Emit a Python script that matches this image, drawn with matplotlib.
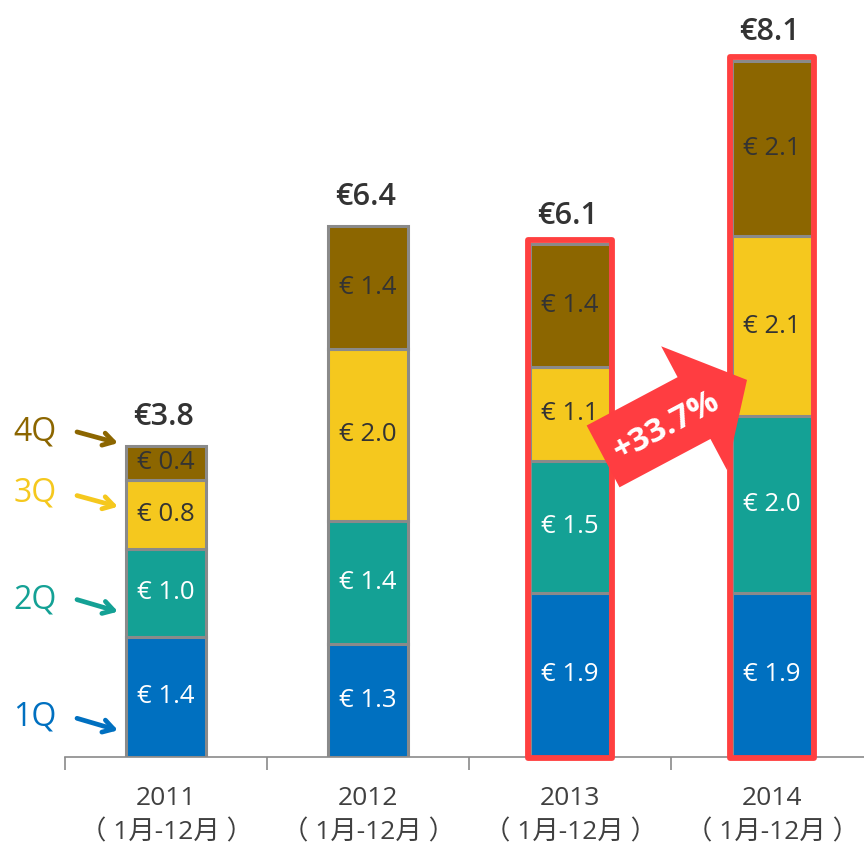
import numpy as np
import matplotlib
matplotlib.use("Agg")
import matplotlib.pyplot as plt
from matplotlib.patches import Rectangle, Polygon
from matplotlib.transforms import ScaledTranslation

plt.rcParams['font.family'] = ['Open Sans', 'Noto Sans CJK SC', 'DejaVu Sans']

years = ["2011", "2012", "2013", "2014"]
period = "（ 1月-12月 ）"
quarters = ["1Q", "2Q", "3Q", "4Q"]
q1 = [1.40, 1.31, 1.91, 1.91]
q2 = [1.02, 1.43, 1.53, 2.05]
q3 = [0.80, 2.01, 1.10, 2.10]
q4 = [0.40, 1.42, 1.42, 2.03]
q1_lbl = ["€ 1.4", "€ 1.3", "€ 1.9", "€ 1.9"]
q2_lbl = ["€ 1.0", "€ 1.4", "€ 1.5", "€ 2.0"]
q3_lbl = ["€ 0.8", "€ 2.0", "€ 1.1", "€ 2.1"]
q4_lbl = ["€ 0.4", "€ 1.4", "€ 1.4", "€ 2.1"]
totals_lbl = ["€3.8", "€6.4", "€6.1", "€8.1"]
highlight = [2, 3]
growth_lbl = "+33.7%"

colors = ["#0070C0", "#14A195", "#F5C81E", "#8C6600"]
text_cols = ["white", "white", "#333333", "#333333"]

W, H = 864, 848
fig = plt.figure(figsize=(W / 100, H / 100), dpi=100)
ax = fig.add_axes([65 / W, 91 / H, 799 / W, 757 / H])

x = np.arange(len(years))
series = [q1, q2, q3, q4]
labels = [q1_lbl, q2_lbl, q3_lbl, q4_lbl]
bottom = np.zeros(len(years))
for k, (vals, lbls) in enumerate(zip(series, labels)):
    vals = np.array(vals)
    ax.bar(x, vals, bottom=bottom, width=0.40, color=colors[k],
           edgecolor="#8a8a8a", linewidth=2.2, zorder=2)
    for i in range(len(years)):
        ax.text(x[i], bottom[i] + vals[i] / 2, lbls[i], ha="center", va="center",
                fontsize=18.5, color=text_cols[k], zorder=4)
    bottom = bottom + vals

tops = bottom
for i in range(len(years)):
    ax.annotate(totals_lbl[i], (x[i], tops[i]), xytext=(-2, 10), textcoords="offset points",
                ha="center", va="bottom", fontsize=22, fontweight="semibold", color="#333333")

for i in highlight:
    ax.add_patch(Rectangle((x[i] - 0.21, -0.01), 0.42, tops[i] + 0.06, fill=False,
                           edgecolor="#FF4040", linewidth=4.2, joinstyle="round",
                           zorder=3, clip_on=False))

# growth arrow
theta = np.deg2rad(28)
s, b, t = -81.5, 21.5, 81.5
pts = np.array([(s, -35), (b, -35), (b, -70), (t, 0), (b, 70), (b, 35), (s, 35)], float)
R = np.array([[np.cos(theta), -np.sin(theta)], [np.sin(theta), np.cos(theta)]])
pts = pts @ R.T / 100.0
trans = fig.dpi_scale_trans + ScaledTranslation(2.52, 3.94, ax.transData)
ax.add_patch(Polygon(pts, closed=True, facecolor="#FF3D41", edgecolor="none",
                     transform=trans, zorder=5, clip_on=False))
ax.text(2.48, 3.84, growth_lbl, rotation=28, rotation_mode="anchor", ha="center",
        va="center", fontsize=24, fontweight="bold", color="white", zorder=6)

# quarter labels with arrows on the left
q_text_y = [0.47, 1.83, 3.07, 3.78]
q_arrow = [(0.45, 0.31), (1.83, 1.69), (3.04, 2.91), (3.78, 3.65)]
for k in range(4):
    ax.annotate(quarters[k], xy=(35 / W, q_text_y[k]), xycoords=("figure fraction", "data"),
                ha="center", va="center", fontsize=23, color=colors[k], annotation_clip=False)
    ax.annotate("", xy=(118 / W, q_arrow[k][1]), xytext=(77 / W, q_arrow[k][0]),
                xycoords=("figure fraction", "data"), textcoords=("figure fraction", "data"),
                arrowprops=dict(arrowstyle="->,head_length=0.75,head_width=0.45",
                                color=colors[k], lw=3.4, shrinkA=0, shrinkB=0),
                annotation_clip=False)

for sp in ["top", "right", "left"]:
    ax.spines[sp].set_visible(False)
ax.spines["bottom"].set_color("#8a8a8a")
ax.spines["bottom"].set_linewidth(1.2)
ax.set_yticks([])
ax.set_xticks(np.arange(-0.5, len(years), 1.0))
ax.set_xticklabels([])
ax.tick_params(axis="x", which="major", length=9, color="#8a8a8a", width=1.2)
ax.set_xticks(x, minor=True)
ax.set_xticklabels([f"{y}\n{period}" for y in years], minor=True, fontsize=19,
                   color="#404040", linespacing=1.5)
ax.tick_params(axis="x", which="minor", length=0, pad=21)
ax.set_xlim(-0.5, -0.5 + 799 / 202)
ax.set_ylim(0, 757 / 86)

fig.savefig("out.png", dpi=100)
